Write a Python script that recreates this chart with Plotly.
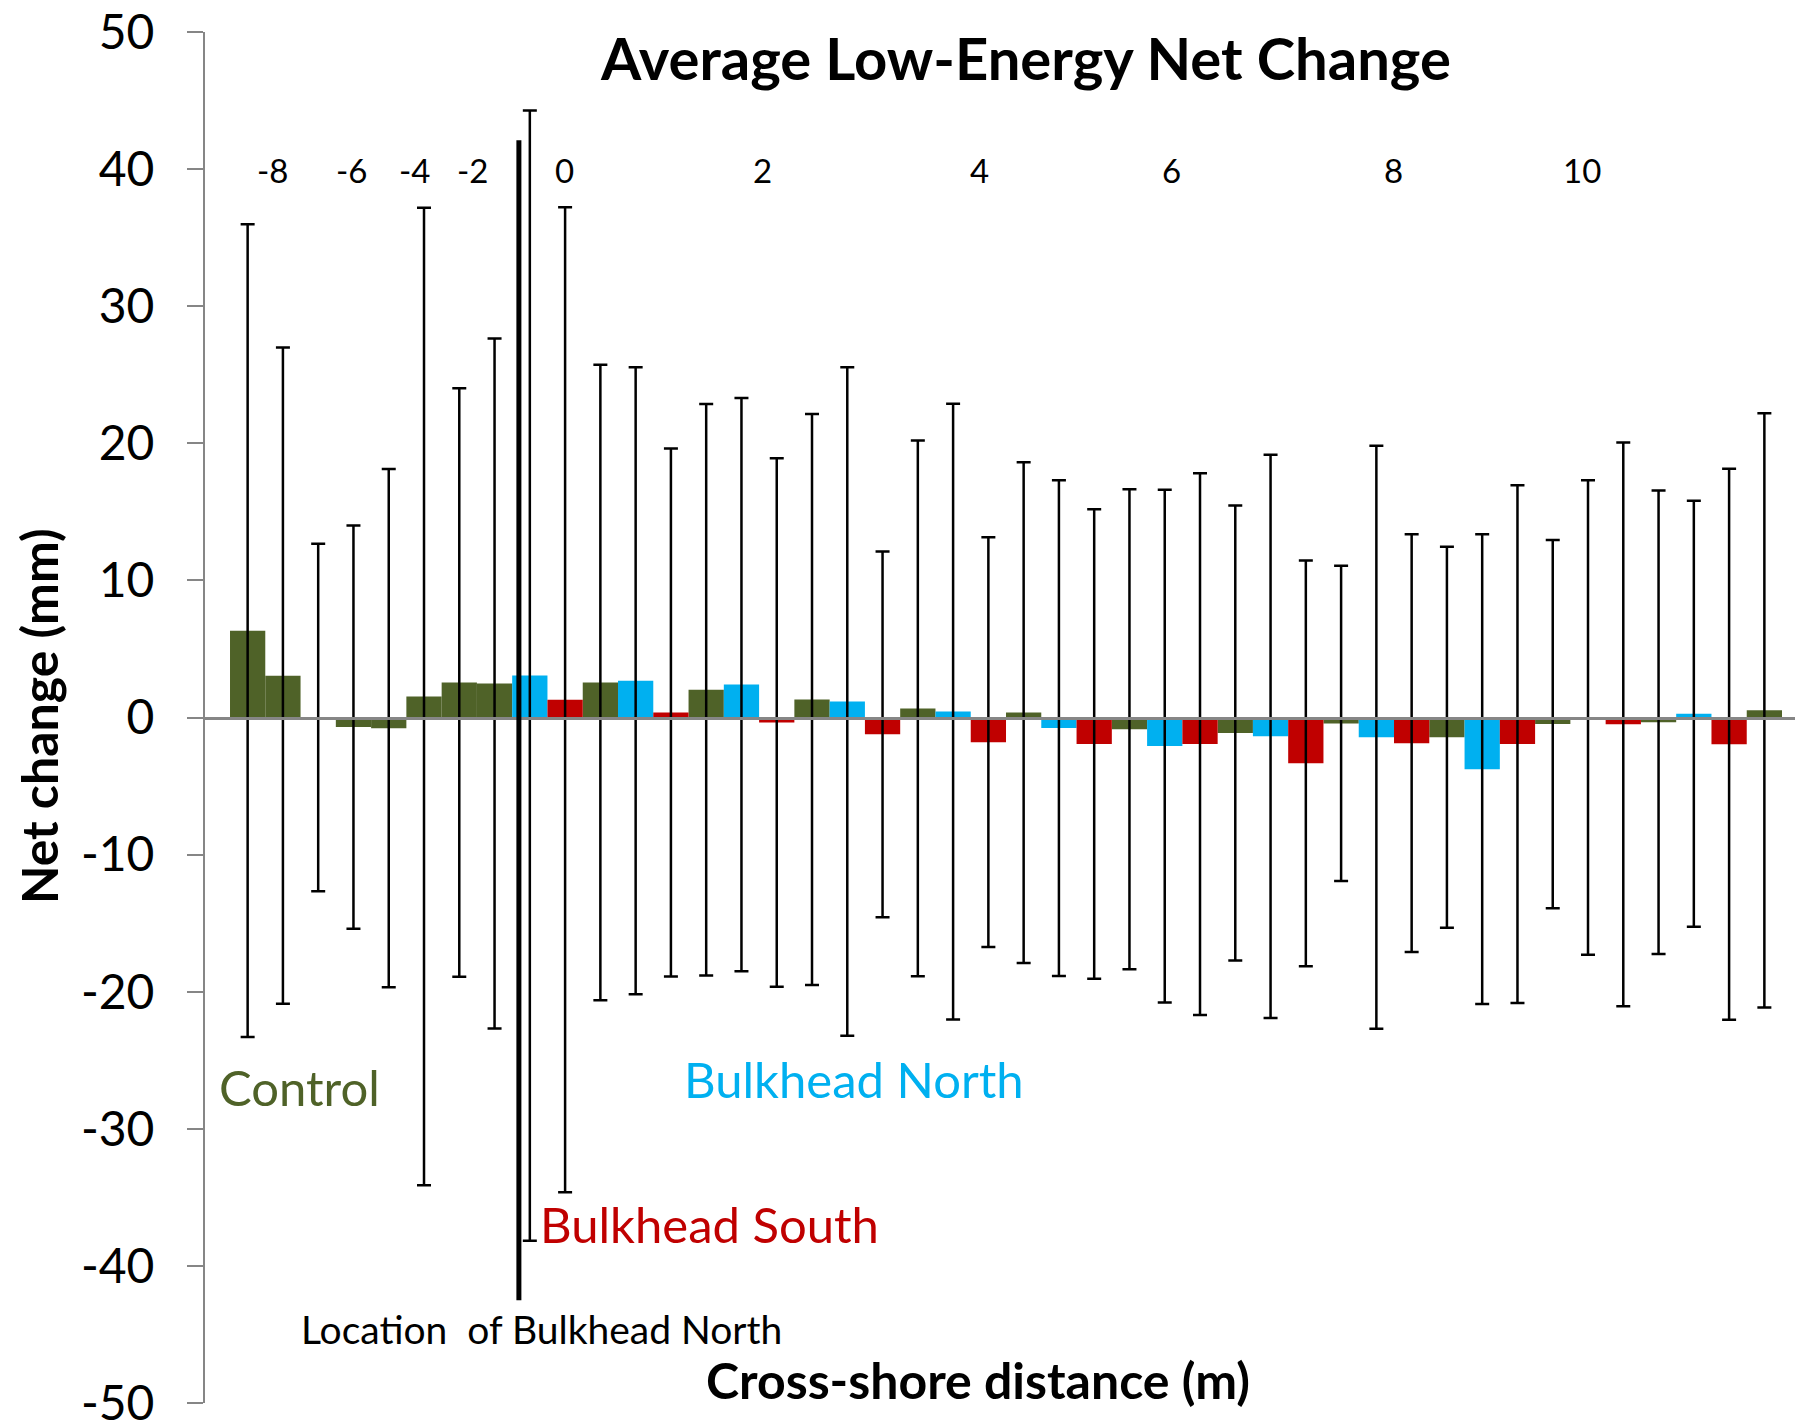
import plotly.graph_objects as go

# ---- data (slot = bar position along the transect, one slot per bar) ----
control_slot = [0, 1, 2, 3, 4, 5, 6, 7, 10, 13, 16, 19, 22, 25, 28, 31, 34, 37, 40, 43]
control_val = [6.33, 3.05, 0.0, -0.70, -0.78, 1.53, 2.55, 2.48, 2.55, 2.03,
               1.31, 0.66, 0.36, -0.86, -1.13, -0.43, -1.44, -0.48, -0.35, 0.52]
control_err = [29.64, 23.93, 12.68, 14.71, 18.9, 35.65, 21.46, 25.17, 23.18, 20.84,
               20.82, 19.54, 18.26, 17.5, 16.6, 11.5, 13.9, 13.43, 16.9, 21.67]

north_slot = [8, 11, 14, 17, 20, 23, 26, 29, 32, 35, 38, 41]
north_val = [3.06, 2.68, 2.40, 1.17, 0.43, -0.77, -2.08, -1.37, -1.44, -3.77, 0.0, 0.27]
north_err = [41.22, 22.86, 20.91, 24.38, 22.45, 18.08, 18.7, 20.54, 21.26, 17.13, 17.3, 15.54]

south_slot = [9, 12, 15, 18, 21, 24, 27, 30, 33, 36, 39, 42]
south_val = [1.30, 0.36, -0.36, -1.23, -1.80, -1.93, -1.94, -3.34, -1.87, -1.94, -0.50, -1.95]
south_err = [35.92, 19.26, 19.27, 13.34, 14.94, 17.12, 19.76, 14.8, 15.23, 18.88, 20.56, 20.09]

distance_labels = ["-8", "-6", "-4", "-2", "0", "2", "4", "6", "8", "10"]
distance_label_slot = [0.70, 2.95, 4.74, 6.37, 8.98, 14.59, 20.74, 26.19, 32.48, 37.83]

bulkhead_north_slot = 7.69
bulkhead_line_top, bulkhead_line_bottom = 42.1, -42.5

y_ticks = [50, 40, 30, 20, 10, 0, -10, -20, -30, -40, -50]
y_tick_text = ["50", "40", "30", "20", "10", "0", "-10", "-20", "-30", "-40", "-50"]

# ---- styling ----
FONT = "Lato"
GREEN, BLUE, RED = "#4F6228", "#00B0F0", "#C00000"
GRAY = "#868686"

fig = go.Figure()
for slots, vals, errs, col, name in [
    (control_slot, control_val, control_err, GREEN, "Control"),
    (north_slot, north_val, north_err, BLUE, "Bulkhead North"),
    (south_slot, south_val, south_err, RED, "Bulkhead South"),
]:
    fig.add_trace(go.Bar(
        x=slots, y=vals, name=name, width=1,
        marker=dict(color=col, line=dict(width=0)),
        error_y=dict(type="data", array=errs, visible=True,
                     color="black", thickness=2.5, width=7),
        showlegend=False,
    ))

annotations = []
for lab, xs in zip(distance_labels, distance_label_slot):
    annotations.append(dict(x=xs, y=39.9, xref="x", yref="y", text=lab,
                            showarrow=False, font=dict(family=FONT, size=33, color="black"),
                            xanchor="center", yanchor="middle"))

annotations += [
    dict(x=1.47, y=-26.95, text="Control", font=dict(family=FONT, size=49, color=GREEN)),
    dict(x=17.18, y=-26.37, text="Bulkhead North", font=dict(family=FONT, size=49, color=BLUE)),
    dict(x=13.1, y=-36.94, text="Bulkhead South", font=dict(family=FONT, size=49, color=RED)),
    dict(x=8.34, y=-44.6, text="Location\u00a0 of Bulkhead North",
         font=dict(family=FONT, size=39, color="black")),
    dict(x=20.7, y=-48.3, text="<b>Cross-shore distance (m)</b>",
         font=dict(family=FONT, size=50, color="black")),
]
for a in annotations[len(distance_labels):]:
    a.update(xref="x", yref="y", showarrow=False, xanchor="center", yanchor="middle")

annotations.append(dict(x=-0.1041, y=0.1, xref="paper", yref="y", textangle=-90,
                        text="<b>Net change (mm)</b>", showarrow=False,
                        font=dict(family=FONT, size=50, color="black"),
                        xanchor="center", yanchor="middle"))

fig.update_layout(
    width=1795, height=1413,
    margin=dict(l=197, r=3, t=24, b=18, autoexpand=False),
    paper_bgcolor="white", plot_bgcolor="white",
    barmode="overlay",
    title=dict(text="<b>Average Low-Energy Net Change</b>", x=0.5671, y=0.9632,
               xanchor="center", yanchor="middle",
               font=dict(family=FONT, size=58, color="black")),
    annotations=annotations,
    shapes=[dict(type="line", xref="x", yref="y",
                 x0=bulkhead_north_slot, x1=bulkhead_north_slot,
                 y0=bulkhead_line_bottom, y1=bulkhead_line_top,
                 line=dict(color="black", width=5), layer="above")],
    xaxis=dict(range=[-1.209, 44.01], showgrid=False, zeroline=False, automargin=False,
               showticklabels=False, ticks="", showline=True, linecolor=GRAY,
               linewidth=2.5, anchor="free", position=0.5, layer="above traces"),
    yaxis=dict(range=[-50, 50], tickvals=y_ticks, ticktext=y_tick_text,
               showgrid=False, zeroline=False, automargin=False,
               showline=True, linecolor=GRAY, linewidth=2, ticks="outside",
               ticklen=16, tickwidth=2, tickcolor=GRAY, ticklabelstandoff=23,
               ticklabeloverflow="allow",
               tickfont=dict(family=FONT, size=48, color="black")),
)

fig.write_html("out.html")
